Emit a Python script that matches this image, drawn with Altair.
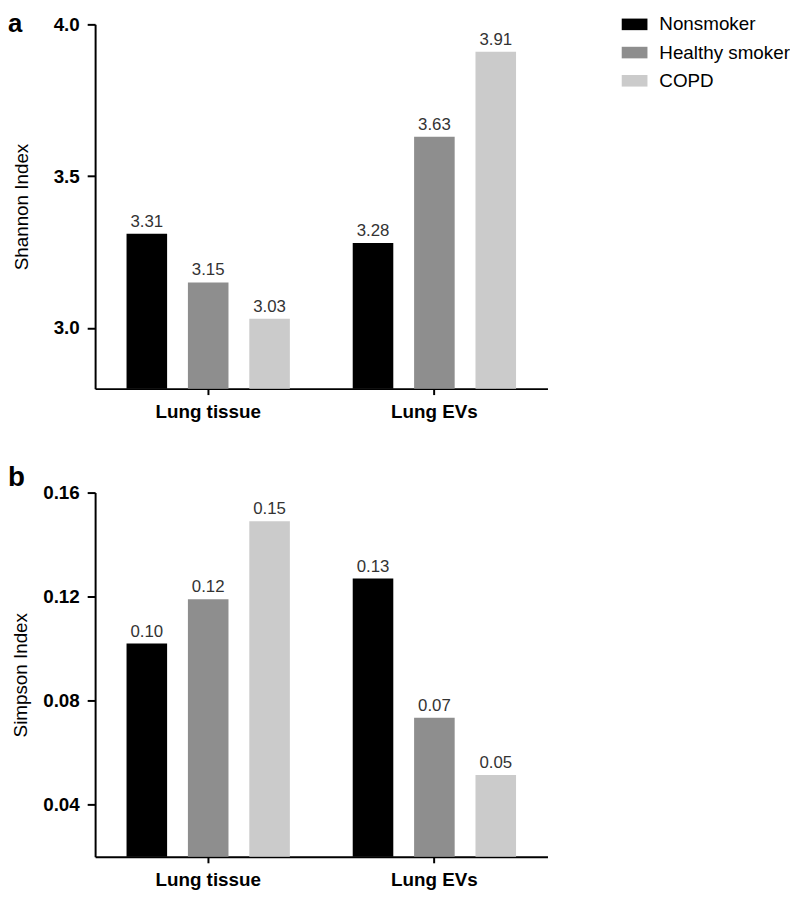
import altair as alt
import pandas as pd

groups = ["Lung tissue", "Lung EVs"]
statuses = ["Nonsmoker", "Healthy smoker", "COPD"]
shannon_tissue = [3.31, 3.15, 3.03]
shannon_evs = [3.28, 3.63, 3.91]
simpson_tissue = [0.102, 0.119, 0.149]
simpson_evs = [0.127, 0.0735, 0.0515]
shannon_ticks = [3.0, 3.5, 4.0]
simpson_ticks = [0.04, 0.08, 0.12, 0.16]
colors = ["#000000", "#8e8e8e", "#cbcbcb"]

FONT = "Liberation Sans"


def frame(tissue, evs):
    rows = []
    for g, vals in zip(groups, [tissue, evs]):
        for s, v in zip(statuses, vals):
            rows.append({"group": g, "status": s, "value": v})
    return pd.DataFrame(rows)


def panel(df, ytitle, domain, ticks, tick_fmt, letter, tag_y, tag_size, title_pad, show_legend):
    x = alt.X(
        "group:N", sort=groups,
        scale=alt.Scale(paddingInner=0, paddingOuter=0),
        axis=alt.Axis(title=None, labelAngle=0, labelFontWeight="bold", labelFontSize=19,
                      labelFont=FONT, labelColor="black", labelPadding=8, tickSize=6,
                      tickColor="black", tickWidth=2, domainColor="black", domainWidth=2),
    )
    xo = alt.XOffset("status:N", sort=statuses,
                     scale=alt.Scale(paddingInner=0.339, paddingOuter=0.512))
    y = alt.Y(
        "value:Q",
        scale=alt.Scale(domain=domain, zero=False, nice=False),
        axis=alt.Axis(values=ticks, format=tick_fmt, title=ytitle, grid=False,
                      labelFontWeight="bold", labelFontSize=19, labelFont=FONT, labelColor="black",
                      labelPadding=8, tickSize=8, tickColor="black", tickWidth=2,
                      domainColor="black", domainWidth=2, titleFont=FONT, titleFontSize=19,
                      titleFontWeight="normal", titleColor="black", titlePadding=title_pad),
    )
    if show_legend:
        legend = alt.Legend(orient="none", legendX=532, legendY=-13, title=None,
                            symbolType="M-1,-0.45H1V0.45H-1Z", symbolSize=676,
                            symbolStrokeWidth=0, labelFontSize=19, labelFont=FONT,
                            labelColor="black", labelOffset=12, rowPadding=5.5, padding=0)
    else:
        legend = None
    color = alt.Color("status:N", sort=statuses,
                      scale=alt.Scale(domain=statuses, range=colors), legend=legend)
    base = alt.Chart(df)
    bars = base.mark_bar().encode(x=x, xOffset=xo, y=y, y2=alt.datum(domain[0]), color=color)
    labels = base.mark_text(dy=-3, baseline="bottom", fontSize=17, font=FONT, color="#333333").encode(
        x=alt.X("group:N", sort=groups), xOffset=alt.XOffset("status:N", sort=statuses),
        y=alt.Y("value:Q"), text=alt.Text("value:Q", format=".2f"))
    tag = alt.Chart(pd.DataFrame({"t": [letter]})).mark_text(
        align="left", baseline="alphabetic", fontSize=tag_size, fontWeight="bold", font=FONT,
        color="black"
    ).encode(x=alt.value(-88), y=alt.value(tag_y), text="t:N")
    return alt.layer(bars, labels, tag).properties(width=457, height=368)


pa = panel(frame(shannon_tissue, shannon_evs), "Shannon Index", [2.8, 4.0],
           shannon_ticks, ".1f", "a", 8, 26, 22, True)
pb = panel(frame(simpson_tissue, simpson_evs), "Simpson Index", [0.02, 0.16],
           simpson_ticks, ".2f", "b", -7, 28, 12, False)

chart = alt.vconcat(pa, pb, spacing=105, bounds="flush").resolve_scale(
    color="independent"
).configure_view(stroke=None).properties(
    background="white", padding={"top": -1, "left": 0, "right": 0, "bottom": 0}
)

chart.save("out.html", embed_options={"renderer": "svg", "actions": False})
